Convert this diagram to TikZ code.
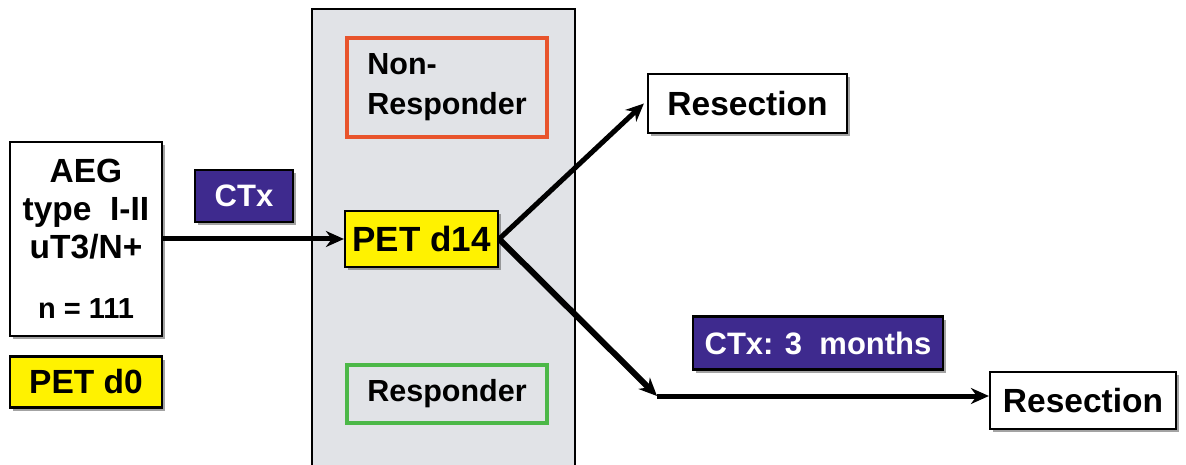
\documentclass[tikz,border=0pt]{standalone}
\usepackage{fontspec}
\setmainfont{Liberation Sans}
\usetikzlibrary{arrows.meta,shadows}
\definecolor{petyellow}{RGB}{255,242,0}
\definecolor{ctxpurple}{RGB}{62,42,142}
\definecolor{panelgray}{RGB}{225,227,231}
\definecolor{nonred}{RGB}{232,84,44}
\definecolor{respgreen}{RGB}{76,184,72}
\tikzset{
  box/.style={draw=black, line width=2.2pt, fill=white, inner sep=0pt,
    font=\bfseries\fontsize{33.5}{38}\selectfont,
    drop shadow={shadow xshift=3pt, shadow yshift=-3pt, fill=black!60, opacity=0.6}},
  petbox/.style={box, fill=petyellow},
  ctxbox/.style={box, fill=ctxpurple, text=white, font=\bfseries\fontsize{31}{34}\selectfont},
  groupbox/.style={draw, line width=3.5pt, inner sep=0pt, font=\bfseries\fontsize{30.5}{40}\selectfont},
  arr/.style={line width=5pt, -{Stealth[length=18pt,width=16pt]}}
}
\begin{document}
\begin{tikzpicture}[x=1pt, y=-1pt]
    \useasboundingbox[fill=white] (0,0) rectangle (1186,465);
    % panel for the PET on day 14
    \node[draw=black, line width=1.8pt, fill=panelgray, minimum width=263pt, minimum height=460pt] (panel) at (443.5,239) {};
    \node[groupbox, draw=nonred, minimum width=200pt, minimum height=99pt, align=left] (nonresp) at (447,87.5) {Non-\\Responder};
    \node[groupbox, draw=respgreen, minimum width=200pt, minimum height=58pt] (resp) at (447,394) {Responder};
    \node[petbox, minimum width=153pt, minimum height=56pt, font=\bfseries\fontsize{35}{38}\selectfont] (petdfourteen) at (421.5,239) {PET d14};
    % left side
    \node[box, minimum width=152pt, minimum height=194pt, align=center] (aeg) at (86,239)
        {AEG\\type\ \ I-II\\uT3/N+\\[22pt]{\fontsize{29}{30}\selectfont n = 111}};
    \node[petbox, minimum width=152pt, minimum height=51pt] (petdzero) at (86,382) {PET d0};
    \node[ctxbox, minimum width=98pt, minimum height=52pt] (ctx) at (244,196) {CTx};
    % right side
    \node[box, minimum width=199pt, minimum height=59pt] (restop) at (747.5,103.5) {Resection};
    \node[ctxbox, minimum width=250pt, minimum height=53pt] (ctxthree) at (818,343) {CTx: 3\ \ months};
    \node[box, minimum width=186pt, minimum height=57pt] (resbot) at (1083,400.5) {Resection};
    \coordinate (turn) at (657,396);
    \draw[arr] (aeg) -- (petdfourteen);
    \draw[arr] (petdfourteen.east) -- ([xshift=-3pt]restop.west);
    \draw[arr, line width=6pt] (petdfourteen.east) -- (turn);
    \draw[arr] (turn) -- (turn -| resbot.west);
\end{tikzpicture}
\end{document}
